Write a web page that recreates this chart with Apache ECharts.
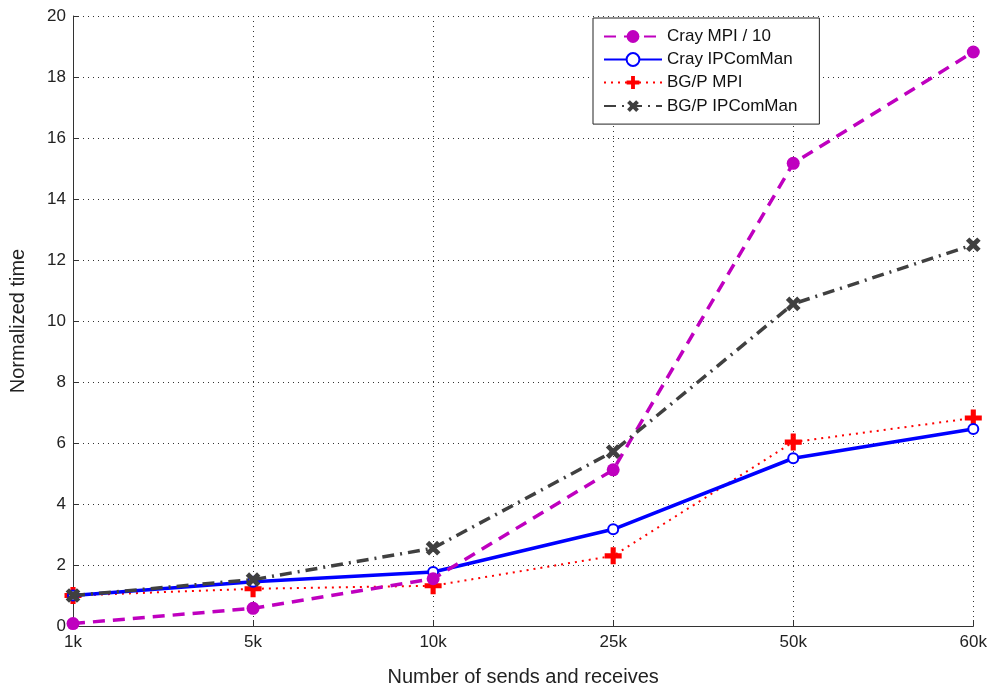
<!DOCTYPE html>
<html>
<head>
<meta charset="utf-8">
<script src="https://cdn.jsdelivr.net/npm/echarts@6/dist/echarts.min.js"></script>
<style>
html, body { margin: 0; padding: 0; background: #fff; }
#chart { width: 990px; height: 692px; }
</style>
</head>
<body>
<div id="chart"></div>
<script>
var categories = ['1k', '5k', '10k', '25k', '50k', '60k'];
var crayMpi = [0.08, 0.58, 1.55, 5.12, 15.17, 18.82];
var crayIpc = [1.0, 1.45, 1.77, 3.17, 5.5, 6.46];
var bgpMpi = [1.0, 1.22, 1.32, 2.3, 6.03, 6.82];
var bgpIpc = [1.0, 1.52, 2.55, 5.72, 10.56, 12.5];

var plusPath = 'path://M3.5,0H6.5V3.5H10V6.5H6.5V10H3.5V6.5H0V3.5H3.5Z';
var font = 'Liberation Sans, Arial, sans-serif';

var myChart = echarts.init(document.getElementById('chart'));
var option = {
	animation: false,
	grid: { left: 65, right: 15, top: 16, bottom: 53, containLabel: false },
	legend: {
		orient: 'vertical',
		left: 593, top: 18,
		padding: [10, 22, 9, 10],
		itemGap: 6,
		itemWidth: 58, itemHeight: 16,
		borderColor: '#222', borderWidth: 1,
		backgroundColor: '#fff',
		textStyle: { fontFamily: font, fontSize: 17, color: '#111' },
		data: ['Cray MPI / 10', 'Cray IPComMan', 'BG/P MPI', 'BG/P IPComMan']
	},
	xAxis: {
		type: 'category',
		data: categories,
		boundaryGap: false,
		name: 'Number of sends and receives',
		nameLocation: 'middle',
		nameGap: 41,
		nameTextStyle: { fontFamily: font, fontSize: 20, color: '#222' },
		axisLine: { lineStyle: { color: '#333', width: 1 } },
		axisTick: { inside: true, length: 6, lineStyle: { color: '#333' } },
		axisLabel: { fontFamily: font, fontSize: 17, color: '#222', margin: 8 },
		splitLine: { show: true, lineStyle: { color: '#333', type: [1, 4], width: 1 } }
	},
	yAxis: {
		type: 'value',
		min: 0, max: 20, interval: 2,
		name: 'Normalized time',
		nameLocation: 'middle',
		nameGap: 45,
		nameTextStyle: { fontFamily: font, fontSize: 20, color: '#222' },
		axisLine: { show: true, lineStyle: { color: '#333', width: 1 } },
		axisTick: { show: true, inside: true, length: 6, lineStyle: { color: '#333' } },
		axisLabel: { fontFamily: font, fontSize: 17, color: '#222', margin: 7 },
		splitLine: { show: true, lineStyle: { color: '#333', type: [1, 4], width: 1 } }
	},
	series: [
		{
			name: 'Cray MPI / 10', type: 'line', data: crayMpi,
			symbol: 'circle', symbolSize: 13,
			itemStyle: { color: '#bf00bf' },
			lineStyle: { color: '#bf00bf', width: 3.5, type: [12, 8] },
			z: 4
		},
		{
			name: 'Cray IPComMan', type: 'line', data: crayIpc,
			symbol: 'emptyCircle', symbolSize: 10,
			itemStyle: { color: '#0000ff', borderWidth: 2.5 },
			lineStyle: { color: '#0000ff', width: 3.5 },
			z: 3
		},
		{
			name: 'BG/P MPI', type: 'line', data: bgpMpi,
			symbol: plusPath, symbolSize: 17,
			itemStyle: { color: '#ff0000' },
			lineStyle: { color: '#ff0000', width: 2, type: [2, 5] },
			z: 2
		},
		{
			name: 'BG/P IPComMan', type: 'line', data: bgpIpc,
			symbol: plusPath, symbolSize: 16, symbolRotate: 45,
			itemStyle: { color: '#404040' },
			lineStyle: { color: '#404040', width: 3.5, type: [12, 6, 2, 6] },
			z: 5
		}
	]
};
myChart.setOption(option);
</script>
</body>
</html>
